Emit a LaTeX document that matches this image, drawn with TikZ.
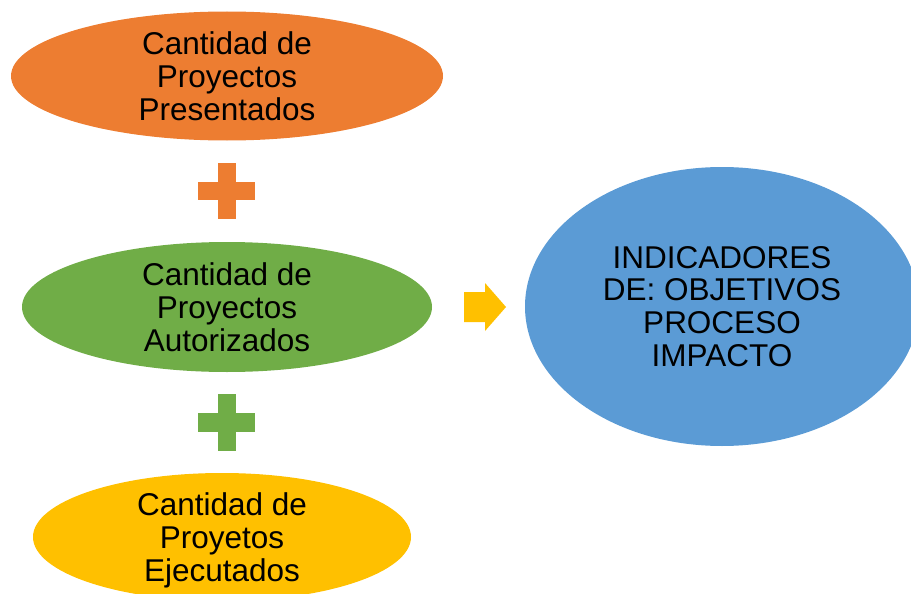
\documentclass[tikz,border=0pt]{standalone}
\usepackage{fontspec}
\setmainfont{Liberation Sans}
\usetikzlibrary{shapes.geometric}
\definecolor{orng}{HTML}{ED7D31}
\definecolor{grn}{HTML}{70AD47}
\definecolor{yllw}{HTML}{FFC000}
\definecolor{blu}{HTML}{5B9BD5}
\begin{document}
\begin{tikzpicture}[x=1pt,y=-1pt,
  blob/.style={ellipse, inner sep=0pt, align=center, font=\fontsize{31.5}{32.8}\selectfont},
  plusmark/.style={fill=#1, draw=none}]
\useasboundingbox (0,0) rectangle (911,594);
\clip (0,0) rectangle (911,594);
\node[blob, fill=orng, minimum width=432pt, minimum height=129pt] (pres) at (227,76) {Cantidad de\\Proyectos\\Presentados};
\node[blob, fill=grn, minimum width=410pt, minimum height=130pt] (aut) at (227,307) {Cantidad de\\Proyectos\\Autorizados};
\node[blob, fill=yllw, minimum width=378pt, minimum height=128pt] (ejec) at (222,537) {Cantidad de\\Proyetos\\\smash{Ejecutados}};
\node[blob, fill=blu, minimum width=394pt, minimum height=279pt] (ind) at (722,306.5) {INDICADORES\\DE: OBJETIVOS\\PROCESO\\IMPACTO};
% plus signs
\fill[plusmark=orng] (218,163) rectangle (236,219);
\fill[plusmark=orng] (198,182) rectangle (255,200);
\fill[plusmark=grn] (218,394) rectangle (236,451);
\fill[plusmark=grn] (198,413) rectangle (255,432);
% arrow
\fill[yllw] (464,292) -- (485,292) -- (485,283) -- (506,307) -- (485,331) -- (485,322) -- (464,322) -- cycle;
\end{tikzpicture}
\end{document}
